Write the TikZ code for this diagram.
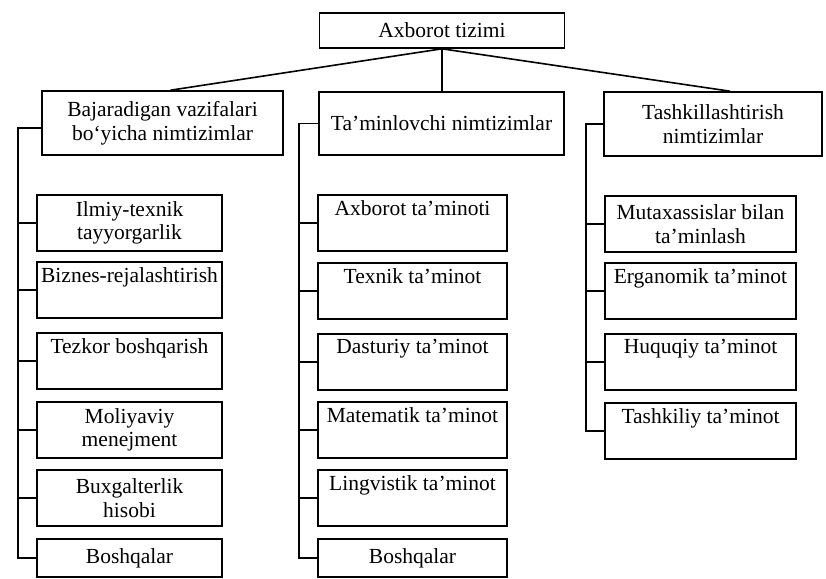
\documentclass[tikz,border=0pt]{standalone}
\usepackage{fontspec}
\setmainfont{Liberation Serif}
\begin{document}
\begin{tikzpicture}[x=1pt,y=-1pt,
  every node/.style={font=\fontsize{21.5}{23.5}\selectfont},
  box/.style={draw, line width=1.6pt, inner sep=0pt, align=center},
  lbox/.style={box, minimum width=185pt, minimum height=56pt},
  mbox/.style={box, minimum width=189pt, minimum height=56pt},
  rbox/.style={box, minimum width=191pt, minimum height=56pt},
  link/.style={line width=1.6pt}]
\useasboundingbox (0,0) rectangle (826,578);
\fill[white] (0,0) rectangle (826,578);

% top level
\node[box, minimum width=245pt, minimum height=35pt] (root) at (442,30.5) {Axborot tizimi};
\node[box, minimum width=241pt, minimum height=64pt] (L) at (162.5,123) {Bajaradigan vazifalari\\bo‘yicha nimtizimlar};
\node[box, minimum width=245pt, minimum height=63pt] (M) at (441.5,123.5) {Ta’minlovchi nimtizimlar};
\node[box, minimum width=218pt, minimum height=64pt] (R) at (713,124) {Tashkillashtirish\\nimtizimlar};

\draw[link] (root.south) -- ([xshift=8pt]L.north);
\draw[link] (root.south) -- (root.south |- M.north);
\draw[link] (root.south) -- ([xshift=17pt]R.north);

% left column
\node[lbox] (l1) at (129.5,223) {Ilmiy-texnik\\tayyorgarlik};
\node[lbox] (l2) at (129.5,290) {Biznes-rejalashtirish\\\strut};
\node[lbox] (l3) at (129.5,361) {Tezkor boshqarish\\\strut};
\node[lbox] (l4) at (129.5,430) {Moliyaviy\\menejment};
\node[lbox] (l5) at (129.5,498) {Buxgalterlik\\hisobi};
\node[box, minimum width=185pt, minimum height=38pt] (l6) at (129.5,558) {Boshqalar};

% middle column
\node[mbox] (m1) at (412.5,223) {Axborot ta’minoti\\\strut};
\node[mbox] (m2) at (412.5,291) {Texnik ta’minot\\\strut};
\node[mbox] (m3) at (412.5,362) {Dasturiy ta’minot\\\strut};
\node[mbox] (m4) at (412.5,430) {Matematik ta’minot\\\strut};
\node[mbox] (m5) at (412.5,498) {Lingvistik ta’minot\\\strut};
\node[box, minimum width=189pt, minimum height=38pt] (m6) at (412.5,558) {Boshqalar};

% right column
\node[rbox] (r1) at (700.5,224) {Mutaxassislar bilan\\ta’minlash};
\node[rbox] (r2) at (700.5,291) {Erganomik ta’minot\\\strut};
\node[rbox] (r3) at (700.5,362) {Huquqiy ta’minot\\\strut};
\node[rbox] (r4) at (700.5,431) {Tashkiliy ta’minot\\\strut};

% trunks
\coordinate (lt) at (18,0);
\coordinate (mt) at (299,0);
\coordinate (rt) at (586,0);

\draw[link] ([yshift=-5pt]L.west) -| (lt |- l6.west) -- (l6.west);
\foreach \n in {l1,l2,l3,l4,l5}
  \draw[link] (\n.west) -- (lt |- \n.west);

\draw[link] (M.west) -| (mt |- m6.west) -- (m6.west);
\foreach \n in {m1,m2,m3,m4,m5}
  \draw[link] (\n.west) -- (mt |- \n.west);

\draw[link] (R.west) -| (rt |- r4.west) -- (r4.west);
\foreach \n in {r1,r2,r3}
  \draw[link] (\n.west) -- (rt |- \n.west);
\end{tikzpicture}
\end{document}
